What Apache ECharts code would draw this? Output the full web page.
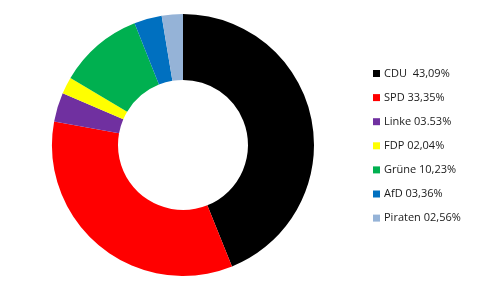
<!DOCTYPE html>
<html>
<head>
<meta charset="utf-8">
<script src="https://cdn.jsdelivr.net/npm/echarts@6/dist/echarts.min.js"></script>
<style>
  html, body { margin: 0; padding: 0; background: #fff; }
  #chart { width: 478px; height: 290px; }
</style>
</head>
<body>
<div id="chart"></div>
<script>
// Party results (percent) and their legend labels
const parties = ['CDU', 'SPD', 'Linke', 'FDP', 'Grüne', 'AfD', 'Piraten'];
const shares = [43.09, 33.35, 3.53, 2.04, 10.23, 3.36, 2.56];
const legendLabels = ['CDU  43,09%', 'SPD 33,35%', 'Linke 03.53%', 'FDP 02,04%', 'Grüne 10,23%', 'AfD 03,36%', 'Piraten 02,56%'];
const partyColors = ['#000000', '#FF0000', '#7030A0', '#FFFF00', '#00B050', '#0070C0', '#95B3D7'];

const data = parties.map((p, i) => ({
  name: legendLabels[i],
  value: shares[i],
  itemStyle: { color: partyColors[i] }
}));

const chart = echarts.init(document.getElementById('chart'), null, { renderer: 'canvas' });
chart.setOption({
  animation: false,
  backgroundColor: '#ffffff',
  legend: {
    orient: 'vertical',
    left: 373,
    top: 67.5,
    padding: 0,
    itemWidth: 7,
    itemHeight: 7,
    itemGap: 12.1,
    icon: 'rect',
    textStyle: { fontFamily: 'Open Sans', fontSize: 11, lineHeight: 12, color: '#1a1a1a', padding: [0, 0, 0, -1] },
    data: legendLabels
  },
  series: [{
    type: 'pie',
    center: [183, 145],
    radius: [65, 131],
    startAngle: 90,
    clockwise: true,
    label: { show: false },
    labelLine: { show: false },
    emphasis: { disabled: true },
    data: data
  }]
});
</script>
</body>
</html>
